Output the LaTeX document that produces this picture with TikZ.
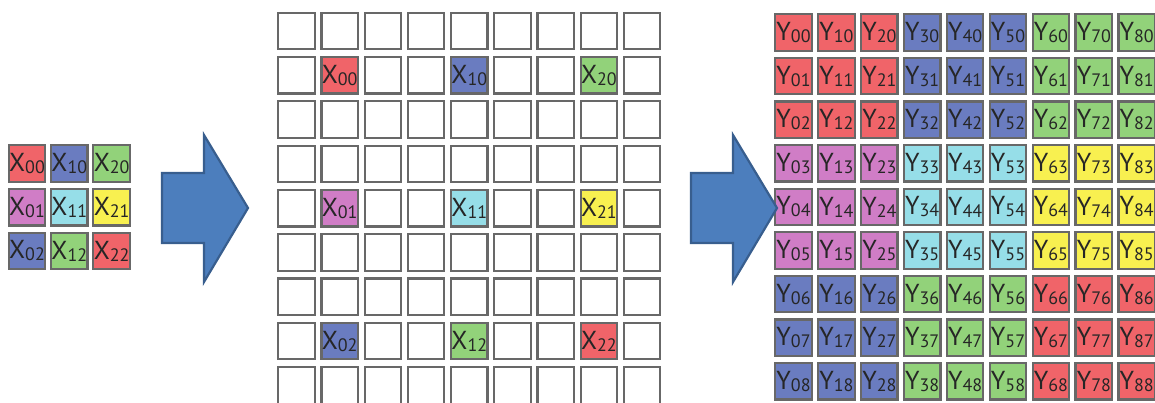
\documentclass[tikz,border=0pt]{standalone}
\usepackage{fontspec}
\setmainfont{PT Sans}
\usetikzlibrary{positioning}

\definecolor{cellred}{HTML}{F06469}
\definecolor{cellblue}{HTML}{6A7CC0}
\definecolor{cellgreen}{HTML}{92D27A}
\definecolor{cellpink}{HTML}{D07DC6}
\definecolor{cellcyan}{HTML}{96DEE8}
\definecolor{cellyellow}{HTML}{F8F050}
\definecolor{cellline}{HTML}{686868}
\definecolor{arrowfill}{HTML}{4C7EBD}
\definecolor{arrowline}{HTML}{385E8E}

% block colours, indexed by column block and row block
\colorlet{blk00}{cellred}
\colorlet{blk10}{cellblue}
\colorlet{blk20}{cellgreen}
\colorlet{blk01}{cellpink}
\colorlet{blk11}{cellcyan}
\colorlet{blk21}{cellyellow}
\colorlet{blk02}{cellblue}
\colorlet{blk12}{cellgreen}
\colorlet{blk22}{cellred}

\newcommand{\celllabel}[3]{#1\raisebox{-2pt}{\fontsize{18}{18}\selectfont #2#3}}

\begin{document}
\begin{tikzpicture}[
        x=1pt, y=-1pt,
        cell/.style={rectangle, draw=cellline, line width=2.2pt, fill=white, minimum width=36.5pt, minimum height=36.5pt, inner sep=0pt, text=black!85, font=\fontsize{26}{26}\selectfont},
        bigarrow/.style={fill=arrowfill, draw=arrowline, line width=2.2pt, line join=miter}
    ]
        \useasboundingbox (0,0) rectangle (1155,403);

        % Input (Left Grid)
        \foreach \a in {0,1,2}{
            \foreach \b in {0,1,2}{
                \node[cell, fill=blk\a\b] (x\a\b) at ({27+42.3*\a},{163.5+43.7*\b}) {\celllabel{X}{\a}{\b}};
            }
        }

        % Spread Out (Middle Grid)
        \foreach \i in {0,...,8}{
            \foreach \j in {0,...,8}{
                \pgfmathtruncatemacro\a{int(\i/3)}
                \pgfmathtruncatemacro\b{int(\j/3)}
                \pgfmathtruncatemacro\k{and(mod(\i,3)==1, mod(\j,3)==1)}
                \ifnum\k=1
                    \node[cell, fill=blk\a\b] (m\i\j) at ({296.5+43.2*\i},{31+44.3*\j}) {\celllabel{X}{\a}{\b}};
                \else
                    \node[cell] (m\i\j) at ({296.5+43.2*\i},{31+44.3*\j}) {};
                \fi
            }
        }

        % Output (Right Grid)
        \foreach \i in {0,...,8}{
            \foreach \j in {0,...,8}{
                \pgfmathtruncatemacro\a{int(\i/3)}
                \pgfmathtruncatemacro\b{int(\j/3)}
                \node[cell, fill=blk\a\b] (y\i\j) at ({793.5+42.9*\i},{32.5+43.6*\j}) {\celllabel{Y}{\i}{\j}};
            }
        }

        % Block Arrows
        \foreach \s in {0,529}{
            \draw[bigarrow, xshift=\s] (162,173) -- (204,173) -- (204,135) -- (248,208)
                -- (204,282) -- (204,243) -- (162,243) -- cycle;
        }

    \end{tikzpicture}
\end{document}
